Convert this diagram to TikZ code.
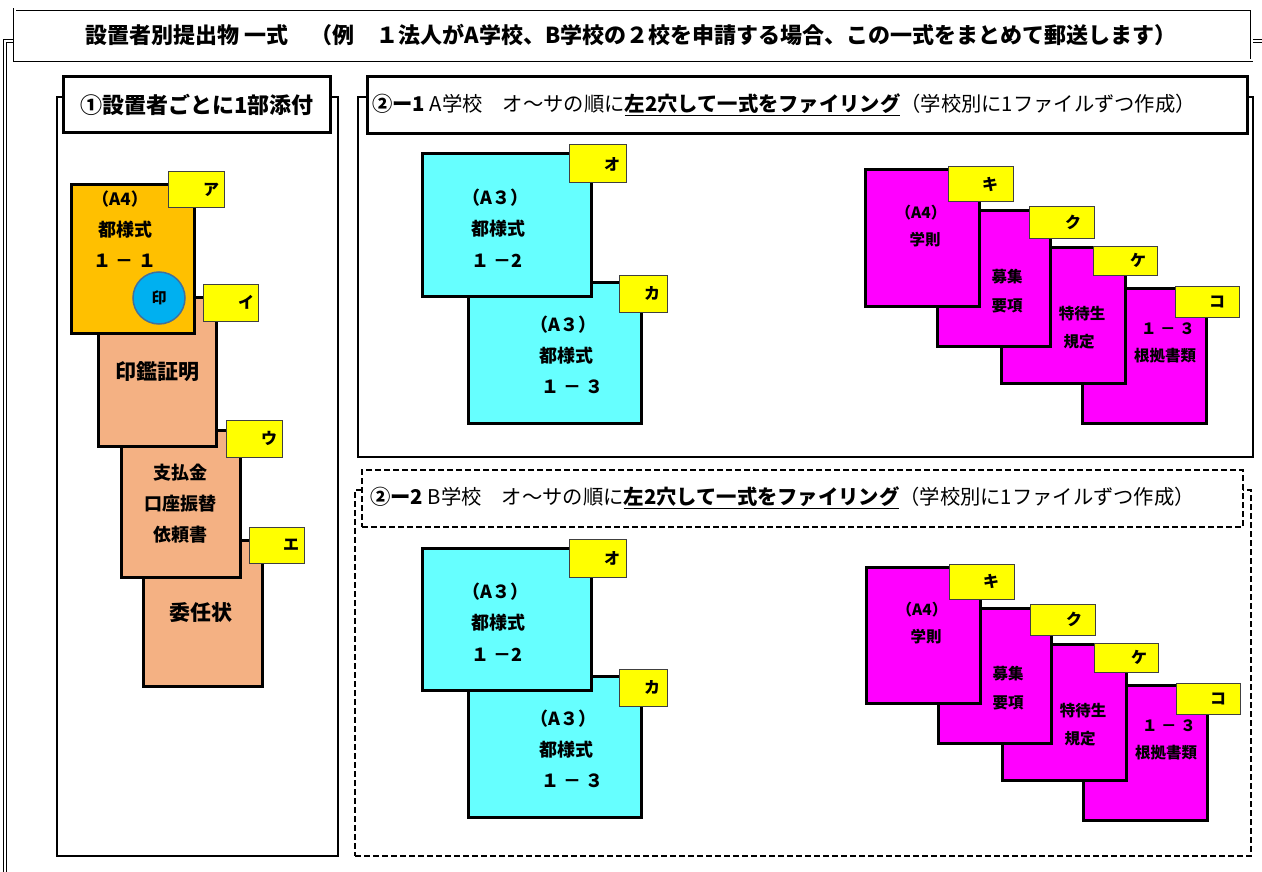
\documentclass[tikz,border=0pt]{standalone}
\usepackage{fontspec}
\setmainfont{Noto Sans CJK JP}
\usetikzlibrary{fit}
\definecolor{cOrange}{HTML}{FFC000}
\definecolor{cPeach}{HTML}{F4B183}
\definecolor{cBlue}{HTML}{00B0F0}
\definecolor{cCircLine}{HTML}{41719C}
\definecolor{cCyan}{HTML}{66FFFF}
\definecolor{cMag}{HTML}{FF00FF}
\definecolor{cYel}{HTML}{FFFF00}
\definecolor{cTagLine}{HTML}{404040}
\newcommand\fs[1]{\fontsize{#1}{#1}\selectfont}
\tikzset{
  docb/.style={draw=black, line width=3pt, inner sep=0pt, outer sep=0pt},
  tagb/.style={draw=cTagLine, line width=1pt, fill=cYel, inner sep=0pt, outer sep=0pt},
  tagt/.style={font=\fs{16}\bfseries, inner sep=0pt},
  dtxt/.style={font=\fs{18}\bfseries, inner sep=0pt},
  mtxt/.style={font=\fs{15.5}\bfseries, inner sep=0pt},
  btxt/.style={font=\fs{21}\bfseries, inner sep=0pt},
  panel/.style={draw=black, line width=2pt, inner sep=0pt},
  dpanel/.style={draw=black, line width=2.2pt, dash pattern=on 6pt off 3pt, inner sep=0pt},
  headb/.style={draw=black, line width=3pt, fill=white, inner sep=0pt},
  dheadb/.style={draw=black, line width=2.2pt, dash pattern=on 6pt off 3pt, fill=white, inner sep=0pt},
  htxt/.style={font=\fs{20.3}, inner sep=0pt},
  frame/.style={draw=black, double=white, double distance=2.5pt, line width=0.9pt},
}
% #1 name, #2 x1, #3 y1, #4 x2, #5 y2, #6 colour
\newcommand\docbox[6]{\node[docb, fill=#6, fit={(#2,#3) (#4,#5)}] (#1) {};}
% #1 name, #2..#5 box, #6 text, #7 text centre x
\newcommand\tagbox[7]{\node[tagb, fit={(#2,#3) (#4,#5)}] (#1) {};
  \node[tagt] (#1t) at (#7,{(#3+#5)/2}) {#6};}
% #1 prefix, #2 cyan dy, #3 magenta dx, #4 magenta dy
\newcommand\schoolset[4]{%
  \docbox{#1cB}{468}{282+#2}{641}{423+#2}{cCyan}
  \tagbox{#1tKa}{619}{275+#2}{667}{312+#2}{カ}{652}
  \node[dtxt, anchor=west] (#1cBa) at (530,325+#2) {（A３）};
  \node[dtxt, anchor=west] (#1cBb) at (539,356+#2) {都様式};
  \node[dtxt, anchor=west] (#1cBc) at (541,387+#2) {１ － ３};
  \docbox{#1cA}{422}{154+#2}{591}{296+#2}{cCyan}
  \tagbox{#1tO}{569}{145+#2}{626}{183+#2}{オ}{612}
  \node[dtxt, anchor=west] (#1cAa) at (462,198+#2) {（A３）};
  \node[dtxt, anchor=west] (#1cAb) at (471,229+#2) {都様式};
  \node[dtxt, anchor=west] (#1cAc) at (471,261+#2) {１ －2};
  %
  \docbox{#1mD}{1082+#3}{288+#4}{1206+#3}{423+#4}{cMag}
  \tagbox{#1tKo}{1175+#3}{286+#4}{1239+#3}{317+#4}{コ}{1217+#3}
  \node[mtxt] (#1mDa) at (1168+#3,329+#4) {１ － ３};
  \node[mtxt] (#1mDb) at (1165+#3,356+#4) {根拠書類};
  \docbox{#1mC}{1001+#3}{247+#4}{1125+#3}{383+#4}{cMag}
  \tagbox{#1tKe}{1093+#3}{246+#4}{1157+#3}{275+#4}{ケ}{1138+#3}
  \node[mtxt] (#1mCa) at (1082+#3,314+#4) {特待生};
  \node[mtxt] (#1mCb) at (1079+#3,342+#4) {規定};
  \docbox{#1mB}{937+#3}{211+#4}{1050+#3}{346+#4}{cMag}
  \tagbox{#1tKu}{1029+#3}{207+#4}{1094+#3}{238+#4}{ク}{1073+#3}
  \node[mtxt] (#1mBa) at (1007+#3,277+#4) {募集};
  \node[mtxt] (#1mBb) at (1007+#3,306+#4) {要項};
  \docbox{#1mA}{865+#3}{170+#4}{979+#3}{306+#4}{cMag}
  \tagbox{#1tKi}{948+#3}{167+#4}{1013+#3}{202+#4}{キ}{990+#3}
  \node[mtxt] (#1mAa) at (921+#3,213+#4) {（A4）};
  \node[mtxt] (#1mAb) at (925+#3,240+#4) {学則};
}
\begin{document}
\begin{tikzpicture}[x=1pt, y=-1pt]
\useasboundingbox (0,0) rectangle (1262,872);
\clip (0,0) rectangle (1262,872);
% outer frame
\draw[frame] (5,880) -- (5,41) -- (16,41);
\draw[frame] (1251,41) -- (1266,41) -- (1266,880);
% title
\node[draw=black, double=white, double distance=2pt, line width=0.9pt, fill=white, inner sep=0pt,
      fit={(14.5,9.5) (1251.5,60.5)}] (title) {};
\node[font=\fs{22}\bfseries, inner sep=0pt] (titletxt) at (631,35)
  {設置者別提出物 一式　（例　１法人がA学校、B学校の２校を申請する場合、この一式をまとめて郵送します）};
% panels
\node[panel, fit={(57,97) (338,856)}] (p1) {};
\node[panel, fit={(358,97) (1253,457)}] (p2) {};
\node[dpanel, fit={(355,490) (1251,856)}] (p3) {};
% headers
\node[headb, fit={(63,77) (330,133)}] (h1) {};
\node[font=\fs{22}\bfseries, inner sep=0pt] (h1t) at (197,105) {①設置者ごとに1部添付};
\node[headb, fit={(367,77) (1247,134)}] (h2) {};
\node[htxt, anchor=west] (h2t) at (372,105)
  {\bfseries ②ー1\mdseries\ A学校　オ～サの順に\underline{\bfseries 左2穴して一式をファイリング}（学校別に1ファイルずつ作成）};
\node[dheadb, fit={(362,470) (1243,527)}] (h3) {};
\node[htxt, anchor=west] (h3t) at (370,498)
  {\bfseries ②ー2\mdseries\ B学校　オ～サの順に\underline{\bfseries 左2穴して一式をファイリング}（学校別に1ファイルずつ作成）};
% panel 1 documents
\docbox{dI}{143}{540}{262}{686}{cPeach}
\tagbox{tE}{249}{527}{304}{563}{エ}{291}
\node[btxt] (dIt) at (201,613) {委任状};
\docbox{dH}{121}{430}{240}{577}{cPeach}
\tagbox{tU}{226}{420}{282}{457}{ウ}{269}
\node[dtxt] (dHa) at (180,473) {支払金};
\node[dtxt] (dHb) at (180,504) {口座振替};
\node[dtxt] (dHc) at (180,535) {依頼書};
\docbox{dG}{98}{297}{216}{446}{cPeach}
\tagbox{tI}{203}{284}{258}{321}{イ}{246}
\node[btxt] (dGt) at (157,372) {印鑑証明};
\docbox{dF}{71}{185}{194}{333}{cOrange}
\tagbox{tA}{168}{172}{224}{208}{ア}{211}
\node[font=\fs{17}\bfseries, inner sep=0pt] (dFa) at (120,199) {（A4）};
\node[dtxt] (dFb) at (125,230) {都様式};
\node[dtxt] (dFc) at (125,261) {１ － １};
\node[circle, fill=cBlue, draw=cCircLine, line width=1.5pt, minimum size=52pt, inner sep=0pt,
      font=\fs{15}\bfseries] (stamp) at (159,298) {印};
% school sets
\schoolset{a}{0}{0}{0}
\schoolset{b}{394}{1}{397}
\end{tikzpicture}
\end{document}
